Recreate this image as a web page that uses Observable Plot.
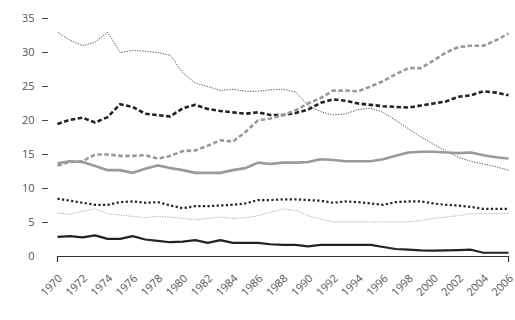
<!DOCTYPE html>
<html>
<head>
<meta charset="utf-8">
<script src="https://cdn.jsdelivr.net/npm/d3@7"></script>
<script src="https://cdn.jsdelivr.net/npm/@observablehq/plot@0.6"></script>
<style>
  html, body { margin: 0; padding: 0; background: #fff; }
  #chart svg { display: block; }
</style>
</head>
<body>
<div id="chart"></div>
<script>
// Years on the horizontal axis
const years = d3.range(1970, 2007);
const yTicks = [5, 10, 15, 20, 25, 30, 35];
const xTicks = d3.range(1970, 2007, 2);

// Seven series, one value per year
const seriesA = [33.0, 31.8, 31.0, 31.5, 33.0, 30.0, 30.3, 30.2, 30.0, 29.6, 27.0, 25.5, 25.0, 24.4, 24.6, 24.3, 24.3, 24.5, 24.6, 24.2, 22.2, 21.3, 20.8, 21.0, 21.6, 21.8, 21.2, 20.0, 18.8, 17.6, 16.5, 15.5, 14.6, 14.0, 13.6, 13.2, 12.7];
const seriesB = [19.5, 20.1, 20.4, 19.7, 20.5, 22.4, 22.0, 21.0, 20.8, 20.6, 21.8, 22.3, 21.7, 21.4, 21.2, 21.0, 21.2, 20.8, 20.8, 21.1, 21.6, 22.6, 23.1, 22.9, 22.5, 22.3, 22.1, 22.0, 21.9, 22.2, 22.5, 22.8, 23.5, 23.7, 24.3, 24.1, 23.7];
const seriesC = [13.4, 13.9, 14.0, 15.0, 15.0, 14.8, 14.8, 14.9, 14.4, 14.8, 15.5, 15.6, 16.3, 17.1, 16.9, 18.3, 20.0, 20.3, 20.8, 21.5, 22.5, 23.3, 24.4, 24.4, 24.3, 25.0, 25.8, 26.8, 27.7, 27.7, 28.8, 30.0, 30.8, 31.0, 31.0, 31.8, 32.8];
const seriesD = [13.7, 14.0, 13.9, 13.3, 12.7, 12.7, 12.3, 12.9, 13.4, 13.0, 12.7, 12.3, 12.3, 12.3, 12.7, 13.0, 13.8, 13.6, 13.8, 13.8, 13.9, 14.3, 14.2, 14.0, 14.0, 14.0, 14.3, 14.8, 15.3, 15.4, 15.4, 15.3, 15.2, 15.3, 14.9, 14.6, 14.4];
const seriesE = [8.5, 8.2, 7.9, 7.6, 7.6, 8.0, 8.1, 7.9, 8.0, 7.5, 7.1, 7.4, 7.4, 7.5, 7.6, 7.8, 8.3, 8.3, 8.4, 8.4, 8.3, 8.2, 7.9, 8.1, 8.0, 7.8, 7.6, 8.0, 8.1, 8.1, 7.8, 7.6, 7.5, 7.3, 7.0, 7.0, 7.0];
const seriesF = [6.4, 6.2, 6.7, 7.0, 6.3, 6.1, 5.9, 5.7, 5.9, 5.8, 5.6, 5.4, 5.6, 5.8, 5.6, 5.7, 6.0, 6.5, 7.0, 6.8, 6.0, 5.5, 5.1, 5.1, 5.1, 5.1, 5.1, 5.1, 5.1, 5.3, 5.6, 5.8, 6.0, 6.3, 6.3, 6.3, 6.3];
const seriesG = [2.9, 3.0, 2.8, 3.1, 2.6, 2.6, 3.0, 2.5, 2.3, 2.1, 2.2, 2.4, 2.0, 2.4, 2.0, 2.0, 2.0, 1.8, 1.7, 1.7, 1.5, 1.7, 1.7, 1.7, 1.7, 1.7, 1.4, 1.1, 1.0, 0.9, 0.85, 0.9, 0.95, 1.0, 0.55, 0.55, 0.55];

// Line styles for each series
const styles = [
  {data: seriesA, stroke: "#555", strokeWidth: 1, strokeDasharray: "1.3,1.3"},
  {data: seriesB, stroke: "#222", strokeWidth: 2.6, strokeDasharray: "4.5,2.5"},
  {data: seriesC, stroke: "#9a9a9a", strokeWidth: 2.6, strokeDasharray: "4.5,2.5"},
  {data: seriesD, stroke: "#9a9a9a", strokeWidth: 2.6, strokeDasharray: null},
  {data: seriesE, stroke: "#222", strokeWidth: 2.2, strokeDasharray: "2.2,2.4"},
  {data: seriesF, stroke: "#aaa", strokeWidth: 1, strokeDasharray: "1.3,1.3"},
  {data: seriesG, stroke: "#222", strokeWidth: 2.2, strokeDasharray: null}
];

const lineMarks = styles.map(s => Plot.line(s.data, {
  x: (d, i) => years[i],
  y: d => d,
  stroke: s.stroke,
  strokeWidth: s.strokeWidth,
  strokeDasharray: s.strokeDasharray,
  strokeLinecap: "butt",
  strokeLinejoin: "round"
}));

const chart = Plot.plot({
  width: 515,
  height: 320,
  marginLeft: 57,
  marginRight: 7,
  marginTop: 18,
  marginBottom: 64,
  style: {fontFamily: "'Open Sans', sans-serif", fontSize: "11px", color: "#555", background: "#fff"},
  x: {domain: [1970, 2006]},
  y: {domain: [0, 35]},
  marks: [
    // value axis: short dashes set off from the plot
    Plot.axisY({ticks: yTicks, tickSize: 6, tickPadding: 8, dx: -9, label: null, stroke: "#444"}),
    Plot.axisY({ticks: [0], tickSize: 0, tickPadding: 23, label: null}),
    // baseline with end ticks
    Plot.ruleY([0], {stroke: "#333", strokeWidth: 1.2}),
    Plot.axisX({ticks: [1970, 2006], tickSize: 6, tickFormat: () => "", label: null, stroke: "#333", strokeWidth: 1.2}),
    Plot.axisX({ticks: xTicks, tickSize: 0, tickRotate: -45, tickPadding: 20, dx: 3, tickFormat: "d", label: null}),
    ...lineMarks
  ]
});

document.getElementById("chart").appendChild(chart);
</script>
</body>
</html>
